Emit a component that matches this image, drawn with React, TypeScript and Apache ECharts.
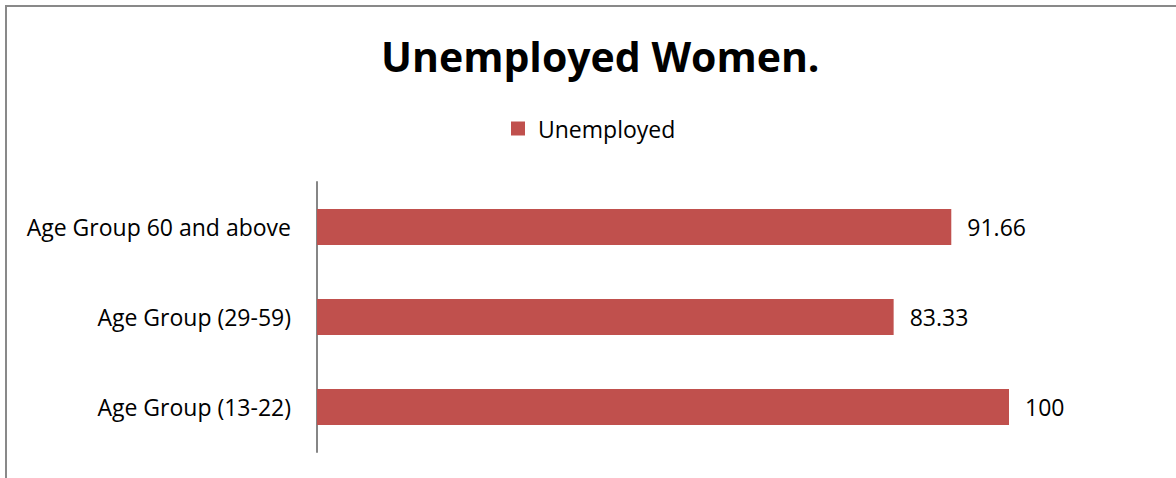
import React, { useEffect, useRef } from "react";
import * as echarts from "echarts";

const categories = ["Age Group (13-22)", "Age Group (29-59)", "Age Group 60 and above"];
const unemployed = [100, 83.33, 91.66];
const seriesName = "Unemployed";
const titleText = "Unemployed Women.";

export default function App() {
  const ref = useRef<HTMLDivElement>(null);
  useEffect(() => {
    const chart = echarts.init(ref.current!, null, { renderer: "svg" });
    const font = "'Open Sans', sans-serif";
    chart.setOption({
      animation: false,
      backgroundColor: "#ffffff",
      textStyle: { fontFamily: font },
      title: {
        text: titleText,
        left: 376,
        top: 30,
        textStyle: { fontSize: 41, fontWeight: "bold", color: "#000", fontFamily: font },
      },
      legend: {
        data: [seriesName],
        top: 112,
        left: 506,
        itemWidth: 14,
        itemHeight: 14,
        icon: "rect",
        itemGap: 10,
        textStyle: { fontSize: 23, color: "#000", fontFamily: font, padding: [0, 0, 0, 8] },
      },
      graphic: [
        {
          type: "rect",
          shape: { x: 6, y: 6, width: 1190, height: 490 },
          style: { fill: "none", stroke: "#898989", lineWidth: 2 },
          silent: true,
        },
      ],
      grid: { left: 317, top: 182, width: 692, height: 270, containLabel: false },
      xAxis: {
        type: "value",
        min: 0,
        max: 100,
        show: false,
      },
      yAxis: {
        type: "category",
        data: categories,
        axisLine: { show: true, lineStyle: { color: "#868686", width: 2 } },
        axisTick: { show: false },
        axisLabel: { fontSize: 23, color: "#000", margin: 26, fontFamily: font },
        splitLine: { show: false },
      },
      series: [
        {
          name: seriesName,
          type: "bar",
          data: unemployed,
          barWidth: "40%",
          itemStyle: { color: "#C0504D" },
          label: {
            show: true,
            position: "right",
            distance: 16,
            fontSize: 23,
            color: "#000",
            fontFamily: font,
          },
        },
      ],
    });
    return () => chart.dispose();
  }, []);
  return (
    <div
      ref={ref}
      style={{ position: "absolute", left: 0, top: 0, width: 1176, height: 478 }}
    />
  );
}
